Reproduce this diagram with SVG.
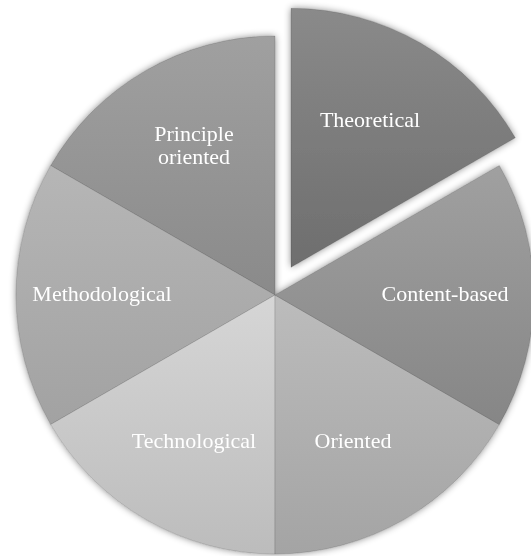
<svg xmlns="http://www.w3.org/2000/svg" width="531" height="556" viewBox="0 0 531 556">
  <defs>
    <linearGradient id="gTheo" x1="0" y1="0" x2="0" y2="1"><stop offset="0" stop-color="#8a8a8a"/><stop offset="1" stop-color="#6e6e6e"/></linearGradient>
    <linearGradient id="gPrin" x1="0" y1="0" x2="0" y2="1"><stop offset="0" stop-color="#a0a0a0"/><stop offset="1" stop-color="#8a8a8a"/></linearGradient>
    <linearGradient id="gMeth" x1="0" y1="0" x2="0" y2="1"><stop offset="0" stop-color="#b6b6b6"/><stop offset="1" stop-color="#a2a2a2"/></linearGradient>
    <linearGradient id="gTech" x1="0" y1="0" x2="0" y2="1"><stop offset="0" stop-color="#d6d6d6"/><stop offset="1" stop-color="#bcbcbc"/></linearGradient>
    <linearGradient id="gOrie" x1="0" y1="0" x2="0" y2="1"><stop offset="0" stop-color="#bcbcbc"/><stop offset="1" stop-color="#a4a4a4"/></linearGradient>
    <linearGradient id="gCont" x1="0" y1="0" x2="0" y2="1"><stop offset="0" stop-color="#a0a0a0"/><stop offset="1" stop-color="#868686"/></linearGradient>
    <filter id="shadow" x="-10%" y="-10%" width="120%" height="120%">
      <feDropShadow dx="0" dy="0" stdDeviation="3.5" flood-color="#000" flood-opacity="0.45"/>
    </filter>
  </defs>
  <style>
    .slice { stroke: rgba(0,0,0,0.12); stroke-width: 1; }
    .lbl { font-family: "Liberation Serif", "Times New Roman", serif; font-size: 22px; fill: #ffffff; }
  </style>
  <rect width="531" height="556" fill="#ffffff"/>
  <g filter="url(#shadow)">
    <g id="principle">
      <path class="slice" d="M275,295 L275,36 A259,259 0 0 0 50.7,165.5 Z" fill="url(#gPrin)"/>
      <text class="lbl" x="194" y="141" text-anchor="middle">Principle</text>
      <text class="lbl" x="194" y="164" text-anchor="middle">oriented</text>
    </g>
    <g id="methodological">
      <path class="slice" d="M275,295 L50.7,165.5 A259,259 0 0 0 50.7,424.5 Z" fill="url(#gMeth)"/>
      <text class="lbl" x="102" y="301" text-anchor="middle">Methodological</text>
    </g>
    <g id="technological">
      <path class="slice" d="M275,295 L50.7,424.5 A259,259 0 0 0 275,554 Z" fill="url(#gTech)"/>
      <text class="lbl" x="194" y="448" text-anchor="middle">Technological</text>
    </g>
    <g id="oriented">
      <path class="slice" d="M275,295 L275,554 A259,259 0 0 0 499.3,424.5 Z" fill="url(#gOrie)"/>
      <text class="lbl" x="353" y="448" text-anchor="middle">Oriented</text>
    </g>
    <g id="content-based">
      <path class="slice" d="M275,295 L499.3,424.5 A259,259 0 0 0 499.3,165.5 Z" fill="url(#gCont)"/>
      <text class="lbl" x="445" y="301" text-anchor="middle">Content-based</text>
    </g>
    <g id="theoretical">
      <path class="slice" d="M291,267.3 L515.3,137.8 A259,259 0 0 0 291,8.3 Z" fill="url(#gTheo)"/>
      <text class="lbl" x="370" y="127" text-anchor="middle">Theoretical</text>
    </g>
  </g>
  <g id="connectors"/>
</svg>
